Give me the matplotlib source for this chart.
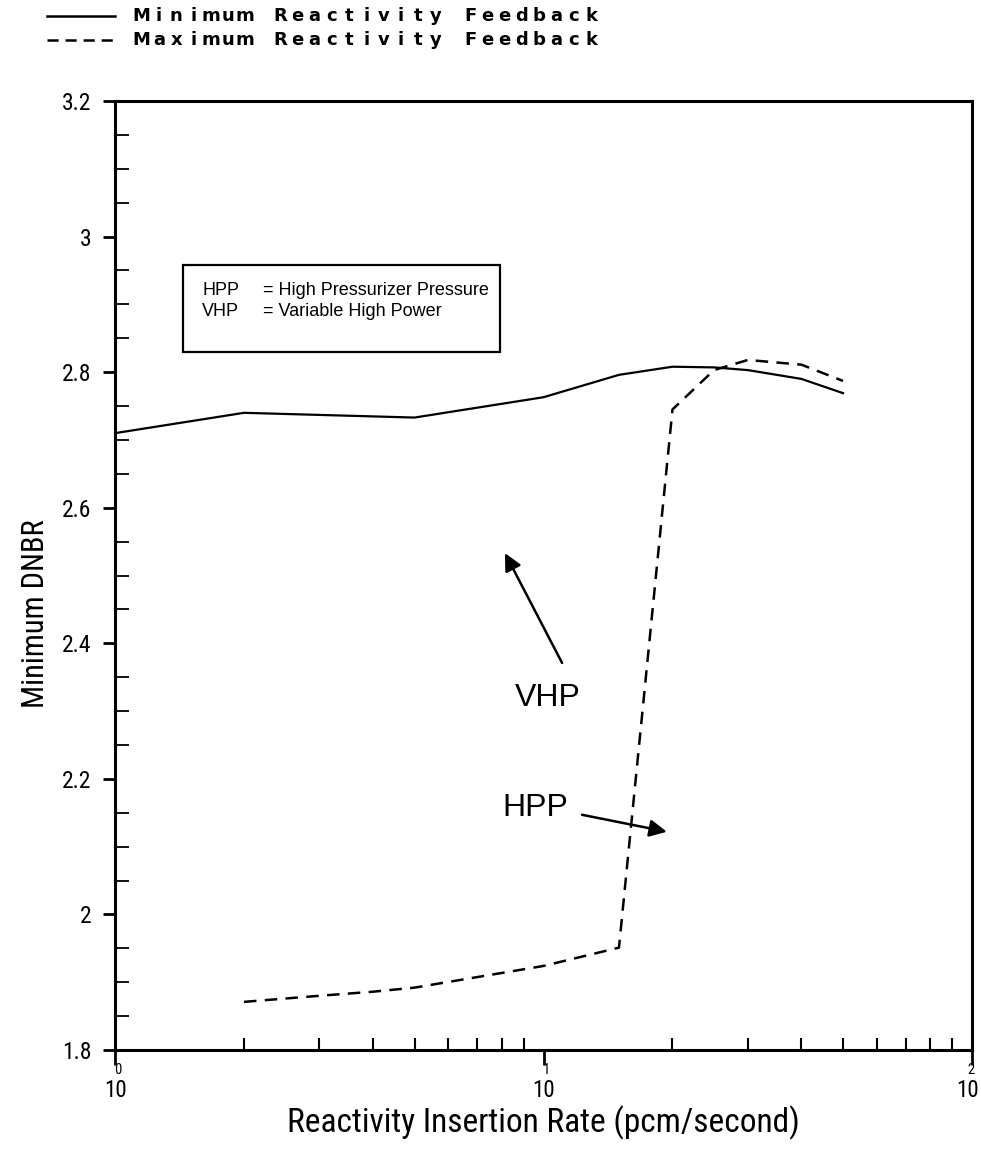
import matplotlib
matplotlib.use("Agg")
import matplotlib.pyplot as plt
from matplotlib.patches import Rectangle
from matplotlib.lines import Line2D
from matplotlib.ticker import FixedLocator, NullFormatter
import matplotlib.transforms as mtransforms
import logging

logging.getLogger('matplotlib.font_manager').setLevel(logging.ERROR)
plt.rcParams['lines.scale_dashes'] = False

# Minimum DNBR vs reactivity insertion rate
rate_min = [1, 2, 5, 10, 15, 20, 25, 30, 40, 50]
dnbr_min = [2.710, 2.740, 2.733, 2.763, 2.796, 2.808, 2.807, 2.803, 2.790, 2.769]

rate_max = [2, 3, 4, 5, 10, 15, 20, 25, 30, 40, 50]
dnbr_max = [1.871, 1.880, 1.886, 1.892, 1.924, 1.951, 2.745, 2.803, 2.818, 2.811, 2.787]

series_labels = ["Minimum Reactivity Feedback", "Maximum Reactivity Feedback"]
y_major = [1.8, 2.0, 2.2, 2.4, 2.6, 2.8, 3.0, 3.2]
x_major = [1, 10, 100]
x_exponents = ["0", "1", "2"]
key_lines = [("HPP", "= High Pressurizer Pressure"),
             ("VHP", "= Variable High Power")]

W, H = 981, 1151
fig = plt.figure(figsize=(W / 100, H / 100), dpi=100)
ax = fig.add_axes([115 / W, 1 - 1050 / H, 857 / W, 949 / H])

ax.plot(rate_min, dnbr_min, color='black', lw=1.6, solid_joinstyle='round')
ax.plot(rate_max, dnbr_max, color='black', lw=1.8, dashes=(9, 6))

ax.set_xscale('log')
ax.set_xlim(1, 100)
ax.set_ylim(1.8, 3.2)

for s in ax.spines.values():
    s.set_linewidth(2.2)

narrow = dict(family=['Roboto Condensed', 'Open Sans Condensed', 'DejaVu Sans'],
              fontstretch='condensed')

# y ticks: major outward, minor inward
ax.yaxis.set_major_locator(FixedLocator(y_major))
ax.set_yticklabels([f"{v:g}" for v in y_major], fontsize=17, **narrow)
ax.yaxis.set_minor_locator(FixedLocator([1.8 + 0.05 * i for i in range(29) if i % 4]))
ax.tick_params(axis='y', which='major', direction='out', length=9, width=2, pad=8)
ax.tick_params(axis='y', which='minor', direction='in', length=10, width=1.3)

# x ticks
ax.xaxis.set_major_locator(FixedLocator(x_major))
ax.xaxis.set_major_formatter(NullFormatter())
minors = [m * d for d in (1, 10) for m in range(2, 10)]
ax.xaxis.set_minor_locator(FixedLocator(minors))
ax.xaxis.set_minor_formatter(NullFormatter())
ax.tick_params(axis='x', which='major', direction='out', length=11, width=2)
ax.tick_params(axis='x', which='minor', direction='in', length=9, width=1.5)

trans = mtransforms.blended_transform_factory(ax.transData, ax.transAxes)
for idx, (xv, ex) in enumerate(zip(x_major, x_exponents)):
    dx = -4 if idx == len(x_major) - 1 else 0
    base = mtransforms.offset_copy(trans, fig=fig, x=dx, y=0, units='dots')
    ax.text(xv, -0.031, "10", transform=base, ha='center', va='top',
            fontsize=16.5, **narrow)
    sup = mtransforms.offset_copy(trans, fig=fig, x=dx + 3, y=0, units='dots')
    ax.text(xv, -0.0135, ex, transform=sup, ha='center', va='top',
            fontsize=10.5, **narrow)

ax.set_ylabel("Minimum DNBR", fontsize=22, **narrow)
ax.yaxis.set_label_coords(-0.076, 0.46)
ax.set_xlabel("Reactivity Insertion Rate (pcm/second)", fontsize=24, **narrow)
ax.xaxis.set_label_coords(0.5, -0.058)

# Annotations
ax.text(10.24, 2.319, "VHP", ha='center', va='center', family='Liberation Sans', fontsize=23)
ax.annotate("", xy=(8.13, 2.533), xytext=(11.05, 2.371),
            arrowprops=dict(arrowstyle='-|>', lw=1.8, color='black',
                            mutation_scale=26, shrinkA=0, shrinkB=0))
ax.text(9.55, 2.157, "HPP", ha='center', va='center', family='Liberation Sans', fontsize=23)
ax.annotate("", xy=(19.4, 2.122), xytext=(12.3, 2.147),
            arrowprops=dict(arrowstyle='-|>', lw=1.8, color='black',
                            mutation_scale=26, shrinkA=0, shrinkB=0))

# Abbreviation key box
fig.patches.append(Rectangle((183 / W, 1 - 352 / H), (500 - 183) / W, (352 - 265) / H,
                             transform=fig.transFigure, fill=False, lw=1.6,
                             edgecolor='black'))
for i, (abbr, desc) in enumerate(key_lines):
    yy = 1 - (291 + 21 * i) / H
    fig.text(202 / W, yy, abbr, ha='left', va='center', family='Liberation Sans', fontsize=13)
    fig.text(263 / W, yy, desc, ha='left', va='center', family='Liberation Sans', fontsize=13)

# Line-style key above the plot, spaced lettering
for j, (lab, ls) in enumerate(zip(series_labels, ['-', '--'])):
    yy = 1 - (16 + 24 * j) / H
    ln = Line2D([47 / W, 115 / W], [yy, yy], transform=fig.transFigure,
                color='black', lw=1.8)
    if ls == '--':
        ln.set_dashes((8, 5))
    fig.lines.append(ln)
    for k, ch in enumerate(lab):
        fig.text((133 + 8.5 + k * 17.3) / W, yy, ch, ha='center', va='center',
                 family='DejaVu Sans', fontsize=13, fontweight='semibold')

fig.savefig("out.png", dpi=100)
